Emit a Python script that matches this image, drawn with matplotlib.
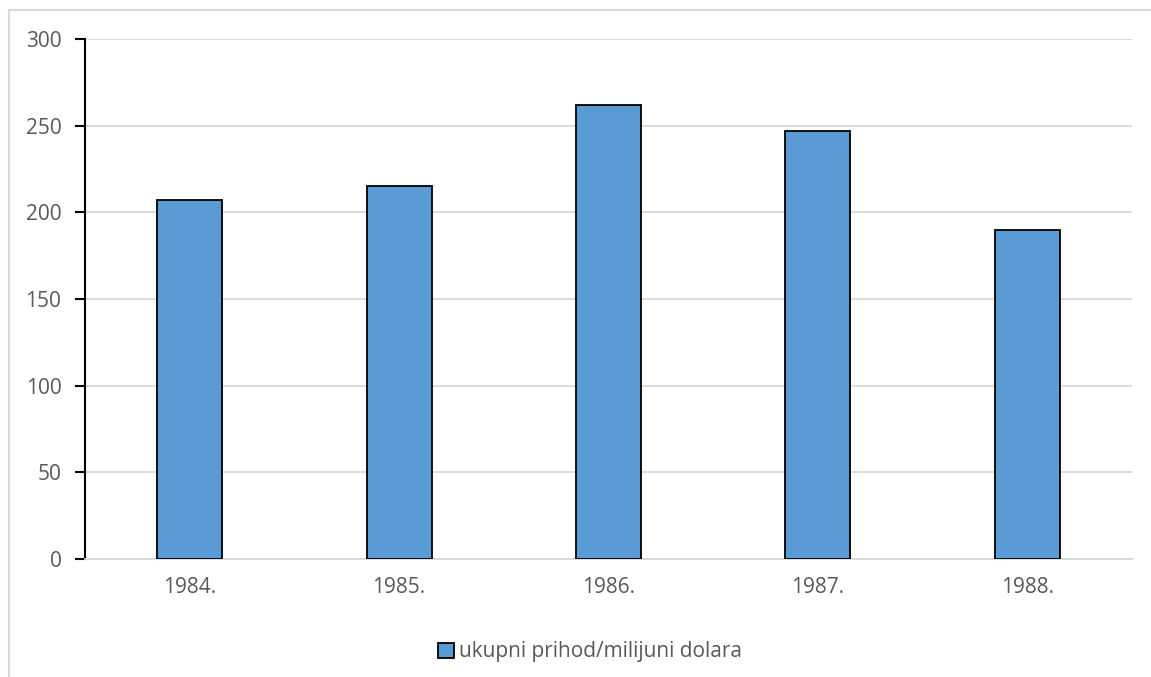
import matplotlib.pyplot as plt
from matplotlib.patches import Rectangle

plt.rcParams['font.family'] = ['Open Sans', 'DejaVu Sans']

godine = ['1984.', '1985.', '1986.', '1987.', '1988.']
prihod = [207, 215, 262, 247, 190]
naziv = 'ukupni prihod/milijuni dolara'

W, H = 1151, 677
fig = plt.figure(figsize=(W / 100, H / 100), dpi=100)

# chart area frame (light grey), only top and left visible
fig.patches.append(Rectangle((9 / W, -0.1), 1.2, 1 - 10 / H + 0.1, transform=fig.transFigure,
                             fill=False, edgecolor='#d9d9d9', linewidth=1.5, zorder=0))

ax = fig.add_axes([85 / W, 1 - 559 / H, (1132 - 85) / W, (559 - 39) / H])
x = range(len(godine))
ax.bar(x, prihod, width=0.31, color='#5b9bd5', edgecolor='black', linewidth=1.3,
       label=naziv, zorder=3)

ax.set_xlim(-0.5, len(godine) - 0.5)
ax.set_ylim(0, 300)
ax.set_yticks(range(0, 301, 50))
ax.set_xticks(list(x))
ax.set_xticklabels(godine)
ax.yaxis.grid(True, color='#d9d9d9', linewidth=1.3, zorder=0)
ax.set_axisbelow(True)

for s in ['top', 'right']:
    ax.spines[s].set_visible(False)
ax.spines['bottom'].set_color('#d9d9d9')
ax.spines['bottom'].set_linewidth(1.3)
ax.spines['left'].set_color('black')
ax.spines['left'].set_linewidth(1.5)
ax.tick_params(axis='y', length=7, width=1.5, color='black', labelsize=15,
               labelcolor='#595959', pad=10)
ax.tick_params(axis='x', length=0, labelsize=15, labelcolor='#595959', pad=13)

leg = fig.legend(loc='center', bbox_to_anchor=(590 / W, 1 - 652 / H), frameon=False,
                 fontsize=15, handlelength=0.75, handleheight=0.75, handletextpad=0.25)
for t in leg.get_texts():
    t.set_color('#595959')

fig.savefig('out.png', dpi=100)
